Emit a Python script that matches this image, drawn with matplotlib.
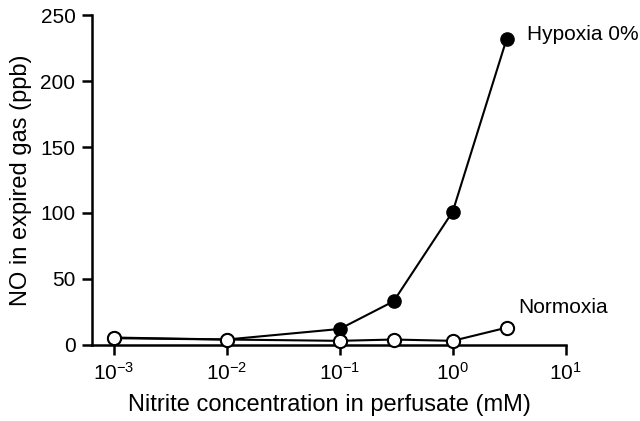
import matplotlib.pyplot as plt
from matplotlib.ticker import FixedLocator

plt.rcParams['font.family'] = ['Liberation Sans', 'DejaVu Sans']
plt.rcParams['mathtext.fontset'] = 'custom'
plt.rcParams['mathtext.rm'] = 'Liberation Sans'

# --- datos ---
nitrito = [0.001, 0.01, 0.1, 0.3, 1.0, 3.0]
hipoxia = [5.5, 4, 12, 33, 101, 232]
normoxia = [5, 4, 3, 4, 3, 13]

xticks = [1e-3, 1e-2, 1e-1, 1e0, 1e1]
xticklabels = [r'$\mathregular{10^{-3}}$', r'$\mathregular{10^{-2}}$', r'$\mathregular{10^{-1}}$',
               r'$\mathregular{10^{0}}$', r'$\mathregular{10^{1}}$']
yticks = [0, 50, 100, 150, 200, 250]

fig = plt.figure(figsize=(6.4, 4.21), dpi=100)
ax = fig.add_axes([0.144, 0.181, 0.74, 0.783])

ax.plot(nitrito, hipoxia, color='black', lw=1.5, marker='o', ms=9.5,
        mfc='black', mec='black', clip_on=False, zorder=3)
ax.plot(nitrito, normoxia, color='black', lw=1.5, marker='o', ms=9.5,
        mfc='white', mec='black', mew=1.5, clip_on=False, zorder=4)

ax.text(4.5, 235, 'Hypoxia 0%', fontsize=15, va='center', ha='left')
ax.text(3.8, 28, 'Normoxia', fontsize=15, va='center', ha='left')

ax.set_xscale('log')
ax.set_xlim(10 ** -3.19, 10)
ax.set_ylim(0, 250)
ax.xaxis.set_major_locator(FixedLocator(xticks))
ax.xaxis.set_minor_locator(FixedLocator([]))
ax.set_xticklabels(xticklabels)
ax.set_yticks(yticks)

for s in ['top', 'right']:
    ax.spines[s].set_visible(False)
for s in ['left', 'bottom']:
    ax.spines[s].set_linewidth(1.8)
ax.tick_params(direction='out', width=1.8, length=7, labelsize=15, pad=5)

ax.set_xlabel('Nitrite concentration in perfusate (mM)', fontsize=17, labelpad=8)
ax.set_ylabel('NO in expired gas (ppb)', fontsize=17, labelpad=6)

fig.savefig('out.png', dpi=100)
